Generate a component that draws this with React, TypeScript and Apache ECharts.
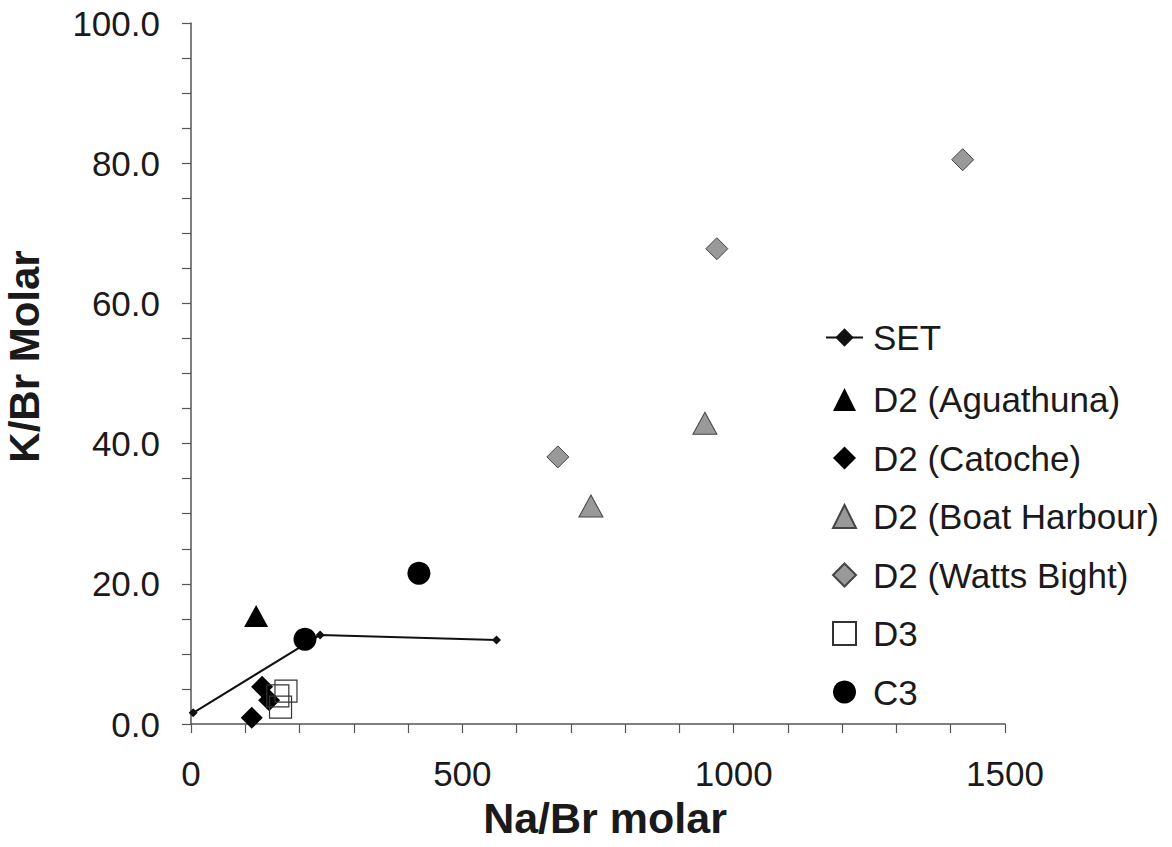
import React, { useEffect, useRef } from "react";
import * as echarts from "echarts";

const setLine: [number, number][] = [[4, 1.6], [238, 12.7], [563, 12.0]];
const aguathuna: [number, number][] = [[120, 15.4]];
const catoche: [number, number][] = [[131, 5.3], [144, 3.4], [112, 0.9]];
const boatHarbour: [number, number][] = [[737, 31.1], [947, 42.9]];
const wattsBight: [number, number][] = [[676, 38.1], [969, 67.8], [1422, 80.5]];
const d3: [number, number][] = [[175, 4.7], [160, 4.0], [165, 2.4]];
const c3: [number, number][] = [[210, 12.1], [420, 21.5]];

const legendNames = [
  "D2 (Aguathuna)",
  "D2 (Catoche)",
  "D2 (Boat Harbour)",
  "D2 (Watts Bight)",
  "D3",
  "C3",
];

const FONT = "'Liberation Sans', Arial, sans-serif";
const AXIS = "#555";
const TXT = "#1a1a1a";

export default function App() {
  const ref = useRef<HTMLDivElement>(null);
  useEffect(() => {
    document.body.style.margin = "0";
    const chart = echarts.init(ref.current!, null, { renderer: "svg" });
    const legendText = { fontSize: 35, lineHeight: 35, color: TXT, fontFamily: FONT };
    chart.setOption({
      animation: false,
      backgroundColor: "#fff",
      textStyle: { fontFamily: FONT, color: TXT },
      grid: { left: 191, right: 167, top: 23, bottom: 123, outerBoundsMode: "none", containLabel: false },
      xAxis: {
        type: "value",
        min: 0,
        max: 1500,
        interval: 100,
        name: "Na/Br molar",
        nameLocation: "middle",
        nameGap: 72,
        nameTextStyle: { fontSize: 43, fontWeight: "bold", color: TXT, fontFamily: FONT, padding: [0, 0, 0, 14] },
        axisLine: { show: true, lineStyle: { color: AXIS, width: 1.5 } },
        axisTick: { show: true, length: 9, inside: false, lineStyle: { color: AXIS, width: 1.2 } },
        axisLabel: {
          fontSize: 35,
          color: TXT,
          margin: 32,
          formatter: (v: number) => (v % 500 === 0 ? String(v) : ""),
        },
        splitLine: { show: false },
      },
      yAxis: {
        type: "value",
        min: 0,
        max: 100,
        interval: 5,
        name: "K/Br Molar",
        nameLocation: "middle",
        nameGap: 146,
        nameRotate: 90,
        nameTextStyle: { fontSize: 42, fontWeight: "bold", color: TXT, fontFamily: FONT, padding: [0, 0, 0, 34] },
        axisLine: { show: true, lineStyle: { color: AXIS, width: 1.5 } },
        axisTick: { show: true, length: 9, lineStyle: { color: AXIS, width: 1.2 } },
        axisLabel: {
          fontSize: 35,
          color: TXT,
          margin: 31,
          formatter: (v: number) => (v % 20 === 0 ? v.toFixed(1) : ""),
        },
        splitLine: { show: false },
      },
      legend: [
        {
          orient: "vertical",
          left: 825,
          top: 320,
          padding: 0,
          itemWidth: 37,
          itemHeight: 23,
          textStyle: { ...legendText, padding: [0, 0, 0, 5] },
          data: ["SET"],
        },
        {
          orient: "vertical",
          left: 832,
          top: 382,
          padding: 0,
          itemGap: 23.5,
          itemWidth: 23,
          itemHeight: 23,
          textStyle: { ...legendText, padding: [0, 0, 0, 12] },
          data: legendNames,
        },
      ],
      series: [
        {
          name: "SET",
          type: "line",
          data: setLine,
          symbol: "diamond",
          symbolSize: 9,
          lineStyle: { color: "#111", width: 2 },
          itemStyle: { color: "#111" },
          z: 3,
        },
        {
          name: legendNames[0],
          type: "scatter",
          data: aguathuna,
          symbol: "triangle",
          symbolSize: [24, 22],
          itemStyle: { color: "#000", opacity: 1 },
        },
        {
          name: legendNames[1],
          type: "scatter",
          data: catoche,
          symbol: "diamond",
          symbolSize: 22,
          itemStyle: { color: "#000", opacity: 1 },
        },
        {
          name: legendNames[2],
          type: "scatter",
          data: boatHarbour,
          symbol: "triangle",
          symbolSize: [24, 22],
          itemStyle: { color: "#999", borderColor: "#444", borderWidth: 1, opacity: 1 },
        },
        {
          name: legendNames[3],
          type: "scatter",
          data: wattsBight,
          symbol: "diamond",
          symbolSize: 22,
          itemStyle: { color: "#999", borderColor: "#444", borderWidth: 1, opacity: 1 },
        },
        {
          name: legendNames[4],
          type: "scatter",
          data: d3,
          symbol: "rect",
          symbolSize: 22,
          itemStyle: { color: "rgba(255,255,255,0)", borderColor: "#333", borderWidth: 1.2, opacity: 1 },
        },
        {
          name: legendNames[5],
          type: "scatter",
          data: c3,
          symbol: "circle",
          symbolSize: 23,
          itemStyle: { color: "#000", opacity: 1 },
          z: 4,
        },
      ],
    });
    return () => chart.dispose();
  }, []);
  return <div ref={ref} style={{ width: 1172, height: 847 }} />;
}
